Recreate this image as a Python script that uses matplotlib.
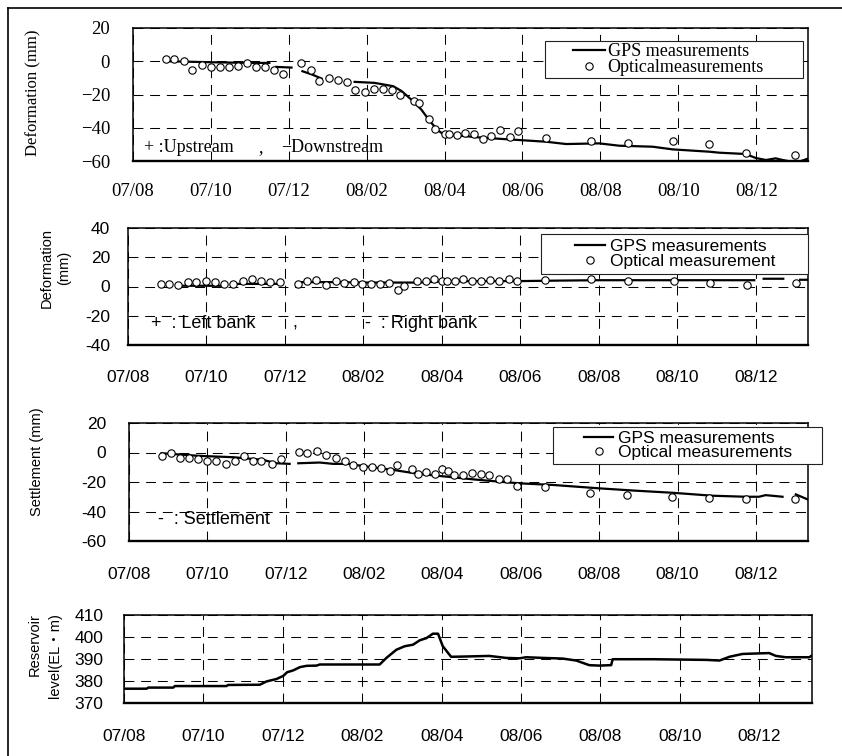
import numpy as np
import matplotlib
matplotlib.use("Agg")
import matplotlib.pyplot as plt
from matplotlib.lines import Line2D
from matplotlib.legend_handler import HandlerLine2D

nan = np.nan

# x axis: months after 2007/08
month_ticks = [0, 2, 4, 6, 8, 10, 12, 14, 16]
month_labels = ["07/08", "07/10", "07/12", "08/02", "08/04",
                "08/06", "08/08", "08/10", "08/12"]

# panel 1: horizontal deformation, upstream/downstream (mm)
opt1_t = [0.84, 1.05, 1.30, 1.52, 1.76, 1.99, 2.23, 2.47, 2.69, 2.93, 3.15, 3.39,
          3.62, 3.85, 4.32, 4.56, 4.78, 5.03, 5.26, 5.49, 5.71, 5.96, 6.20, 6.42,
          6.66, 6.85, 7.21, 7.34, 7.59, 7.76, 8.00, 8.11, 8.31, 8.52, 8.75, 8.98,
          9.19, 9.42, 9.68, 9.89, 10.60, 11.77, 12.70, 13.87, 14.80, 15.73, 16.99]
opt1_v = [1.6, 1.6, 0.4, -5, -2, -3.4, -3.4, -3.4, -2.6, -1.2, -3.4, -3.4,
          -5.4, -7.8, -1, -5.4, -12, -9.8, -11, -12.4, -17, -18.6, -16.4, -16.4,
          -17, -20.6, -24, -25, -34.8, -41, -43.8, -43.8, -44.4, -43.4, -43.8, -47,
          -45, -41.4, -45.8, -42.2, -46.4, -48, -49.4, -47.8, -50, -55.2, -56.6]
gps1_t = [0.9, 2.0, 3.0, 3.5, nan, 3.68, 4.07, nan, 4.35, 4.6, 4.84, nan,
          5.69, 6.2, 6.68, 6.9, 7.19, 7.4, 7.59, 7.8, 7.97, 8.5, 8.98, 9.92,
          10.6, 11.12, 11.97, 12.48, 13.34, 13.85, 14.79, 15.05, 15.73, 15.99,
          16.25, 16.5, 16.68, 17.03, 17.4]
gps1_v = [0, -0.6, -1, -1, nan, -3.4, -3.8, nan, -6, -8, -10.4, nan,
          -12.4, -13, -15, -18, -24, -29, -35, -41, -44, -45, -46, -47.4,
          -48.4, -49.8, -49.4, -50.8, -51.4, -53, -54.4, -55, -55.8, -58.2,
          -59.4, -58.4, -59.4, -61, -58]

# panel 2: deformation, left/right bank (mm)
opt2_t = [0.83, 1.05, 1.28, 1.53, 1.74, 2.0, 2.21, 2.44, 2.68, 2.92, 3.17, 3.40,
          3.63, 3.87, 4.34, 4.57, 4.79, 5.04, 5.29, 5.51, 5.76, 5.96, 6.20, 6.43,
          6.66, 6.87, 7.04, 7.36, 7.60, 7.79, 8.0, 8.13, 8.34, 8.54, 8.77, 9.0,
          9.23, 9.46, 9.70, 9.91, 10.62, 11.79, 12.74, 13.91, 14.83, 15.78, 17.03]
opt2_v = [1.6, 1.6, 0.9, 3.4, 3.4, 4.1, 3.0, 1.8, 1.8, 4.1, 5.0, 4.1,
          3.0, 3.0, 1.8, 4.1, 4.6, 0.9, 3.7, 2.3, 3.4, 1.8, 1.4, 1.4,
          2.3, -2.3, 0.5, 4.1, 3.7, 5.0, 3.7, 3.7, 3.7, 5.0, 3.7, 3.7,
          4.3, 3.7, 5.0, 3.7, 4.3, 5.0, 3.7, 3.7, 2.5, 0.9, 2.5]
gps2_t = [1.4, 2.5, nan, 2.7, 3.9, nan, 4.4, 5.2, 6.0, 6.5, 7.4, 8.0, 9.0,
          10.0, 10.85, 12.0, 13.0, 14.0, 15.0, 15.96, nan, 16.2, 16.7, nan,
          17.13, 17.47]
gps2_v = [0.5, 0.5, nan, 1.8, 1.8, nan, 3.0, 3.0, 2.7, 2.7, 2.7, 3.5, 3.7,
          3.7, 4.0, 4.3, 4.3, 4.3, 4.3, 4.3, nan, 5.3, 5.3, nan,
          4.6, 4.6]

# panel 3: settlement (mm)
opt3_t = [0.83, 1.06, 1.30, 1.54, 1.77, 2.0, 2.22, 2.47, 2.70, 2.93, 3.17, 3.38,
          3.64, 3.87, 4.34, 4.55, 4.80, 5.04, 5.28, 5.51, 5.72, 5.96, 6.20, 6.42,
          6.67, 6.85, 7.22, 7.37, 7.57, 7.80, 8.0, 8.13, 8.30, 8.52, 8.75, 8.98,
          9.19, 9.45, 9.66, 9.90, 10.61, 11.77, 12.70, 13.87, 14.80, 15.74, 16.99]
opt3_v = [-2.3, -0.5, -3.9, -3.9, -4.5, -5.5, -5.5, -8, -6.1, -2.3, -6.1, -6.1,
          -8, -4.5, 0.2, -0.5, 1.1, -2, -3.9, -5.5, -8.6, -9.5, -9.5, -10.5,
          -12.7, -8.6, -11.4, -14.5, -13, -14.5, -11.1, -12.5, -15.2, -15.2, -13.6, -14.5,
          -15.2, -17.7, -17.7, -22.7, -23.6, -27.7, -28.6, -30.2, -31.1, -31.8, -31.8]
gps3_t = [0.83, 1.81, 2.66, 3.42, 3.76, 4.1, nan, 4.32, 4.87, 5.21, 5.59, 6.06,
          6.74, 7.39, 8.27, 8.78, 9.46, 9.97, 10.82, 12.0, 12.94, 13.87, 14.89,
          15.74, 16.08, 16.25, 16.68, nan, 17.02, 17.32]
gps3_v = [-0.5, -2.3, -3.2, -5, -7.3, -7.7, nan, -7.3, -6.8, -7.7, -7.7, -9.5,
          -11.8, -14.5, -16.8, -18.2, -19.8, -20.9, -22, -24.3, -25.9, -27.3, -29.3,
          -30, -30, -28.9, -30, nan, -28.4, -31.8]

# panel 4: reservoir level (EL m)
res_t = [0, 0.57, 0.61, 1.24, 1.28, 2.58, 2.62, 3.42, 3.59, 3.84,
         4.01, 4.11, 4.26, 4.43, 4.60, 4.85, 4.93, 6.44, 6.61, 6.86,
         7.07, 7.28, 7.45, 7.62, 7.78, 7.91, 8.03, 8.24, 8.53, 9.2,
         9.62, 9.96, 10.13, 10.55, 11.05, 11.39, 11.72, 11.97, 12.27, 12.31,
         13.32, 14.66, 15.0, 15.25, 15.58, 16.25, 16.42, 16.67, 17.26, 17.34]
res_v = [376.5, 376.5, 377, 377, 377.7, 377.7, 378.2, 378.3, 379.8, 380.9,
         382.3, 384, 384.8, 386.3, 386.9, 387, 387.5, 387.5, 390.5, 394.2,
         395.8, 396.5, 398.5, 399.5, 401.5, 401.5, 395.8, 391, 391.1, 391.4,
         390.5, 390.3, 390.8, 390.5, 390.2, 389.3, 387.2, 387, 387.2, 389.9,
         389.9, 389.6, 389.3, 391, 392.3, 392.7, 391.4, 390.8, 390.8, 391.7]

SERIF = "Liberation Serif"
SANS = ["Liberation Sans", "Noto Sans CJK JP"]

W, H = 842, 756
fig = plt.figure(figsize=(W / 100, H / 100), dpi=100)


def box(l, t, r, b):
    # pixel box -> figure fraction
    return [l / W, 1 - b / H, (r - l) / W, (b - t) / H]


def style(ax, ylim, yticks, ylabels, font, size, xpad, ypad):
    ax.set_xlim(0, 17.33)
    ax.set_ylim(*ylim)
    ax.set_xticks(month_ticks, labels=month_labels)
    ax.set_yticks(yticks, labels=ylabels)
    for lab in ax.get_xticklabels() + ax.get_yticklabels():
        lab.set_family(font)
        lab.set_fontsize(size)
    ax.tick_params(length=0)
    ax.tick_params(axis="x", pad=xpad)
    ax.tick_params(axis="y", pad=ypad)
    ax.grid(True, color="black", lw=0.75, ls=(0, (9.5, 6.5)))
    for s in ax.spines.values():
        s.set_linewidth(1.1)
    ax.spines["bottom"].set_linewidth(1.7)


def key(ax, handles, labels, x0, ytop, w, font, size, bp, ls, hl, xpad, htp):
    leg = ax.legend(handles, labels, loc="upper left",
                    bbox_to_anchor=(x0, ytop, w, 0), mode="expand",
                    borderaxespad=0, borderpad=bp, labelspacing=ls,
                    handlelength=hl, handletextpad=htp, numpoints=1,
                    fancybox=False, edgecolor="#222222", framealpha=1,
                    prop={"family": font, "size": size},
                    handler_map={h: HandlerLine2D(xpad=xpad) for h in handles})
    leg.get_frame().set_linewidth(0.8)


mk = dict(ls="none", marker="o", ms=5.3, mfc="white", mec="black", mew=0.8)

# ---- panel 1
ax1 = fig.add_axes(box(133, 28, 808, 161))
g1, = ax1.plot(gps1_t, gps1_v, color="black", lw=1.6)
o1, = ax1.plot(opt1_t, opt1_v, **mk)
style(ax1, (-60, 20), [-60, -40, -20, 0, 20],
      ["\u221260", "\u221240", "\u221220", "0", "20"], SERIF, 13.5, 16, 16.5)
ax1.set_ylabel("Deformation (mm)", family=SERIF, fontsize=12, va="center")
ax1.yaxis.set_label_coords(-0.148, 0.51)
key(ax1, [g1, o1], ["GPS measurements", "Opticalmeasurements"],
    0.610, 0.902, 0.382, SERIF, 13, 0.11, -0.05, 3.2, 1.44, 0.17)
ax1.text((144 - 133) / 675, 0.098, "+ :Upstream", family=SERIF, fontsize=13,
         transform=ax1.transAxes, va="center")
ax1.text((258 - 133) / 675, 0.098, ",", family=SERIF, fontsize=13,
         transform=ax1.transAxes, va="center")
ax1.text((281 - 133) / 675, 0.098, "\u2212Downstream", family=SERIF, fontsize=13,
         transform=ax1.transAxes, va="center")

# ---- panel 2
ax2 = fig.add_axes(box(128, 228, 808, 345))
g2, = ax2.plot(gps2_t, gps2_v, color="black", lw=1.6)
o2, = ax2.plot(opt2_t, opt2_v, **mk)
style(ax2, (-40, 40), [-40, -20, 0, 20, 40],
      ["-40", "-20", "0", "20", "40"], SANS, 12.5, 18, 13)
ax2.set_ylabel("Deformation\n(mm)", family=SANS, fontsize=10.5, va="center",
               linespacing=1.35)
ax2.yaxis.set_label_coords(-0.107, 0.66)
key(ax2, [g2, o2], ["GPS measurements", "Optical measurement"],
    0.607, 0.949, 0.393, SANS, 12.5, 0.29, 0.0, 3.4, 1.67, 0.29)
ax2.text((151 - 128) / 680, 0.188, "+  : Left bank", family=SANS, fontsize=13,
         transform=ax2.transAxes, va="center")
ax2.text((292 - 128) / 680, 0.188, ",", family=SANS, fontsize=13,
         transform=ax2.transAxes, va="center")
ax2.text((365 - 128) / 680, 0.188, "-  : Right bank", family=SANS, fontsize=13,
         transform=ax2.transAxes, va="center")

# ---- panel 3
ax3 = fig.add_axes(box(129, 423, 808, 541))
g3, = ax3.plot(gps3_t, gps3_v, color="black", lw=1.6)
o3, = ax3.plot(opt3_t, opt3_v, **mk)
style(ax3, (-60, 20), [-60, -40, -20, 0, 20],
      ["-60", "-40", "-20", "0", "20"], SANS, 12.5, 18.7, 16.5)
ax3.set_ylabel("Settlement (mm)", family=SANS, fontsize=10.5, va="center")
ax3.yaxis.set_label_coords(-0.135, 0.67)
key(ax3, [g3, o3], ["GPS measurements", "Optical measurements"],
    0.6245, 0.966, 0.396, SANS, 12.5, 0.23, -0.06, 3.23, 1.56, 0.29)
ax3.text((158 - 129) / 679, 0.186, "-  : Settlement", family=SANS, fontsize=13,
         transform=ax3.transAxes, va="center")

# ---- panel 4
ax4 = fig.add_axes(box(124, 615, 812, 703))
ax4.plot(res_t, res_v, color="black", lw=1.8)
style(ax4, (370, 410), [370, 380, 390, 400, 410],
      ["370", "380", "390", "400", "410"], SANS, 12.5, 18.7, 15)
ax4.set_ylabel("Reservoir\nlevel(EL\u30fbm)", family=SANS, fontsize=10.5,
               va="center", ma="right", linespacing=1.65)
ax4.yaxis.set_label_coords(-0.115, 0.54)

# frame lines around the figure (left and top)
fig.add_artist(Line2D([8 / W, 8 / W], [0, 1 - 8 / H], transform=fig.transFigure,
                      color="black", lw=1.2))
fig.add_artist(Line2D([8 / W, 1], [1 - 8 / H, 1 - 8 / H], transform=fig.transFigure,
                      color="black", lw=1.2))

fig.savefig("out.png", dpi=100, facecolor="white")
